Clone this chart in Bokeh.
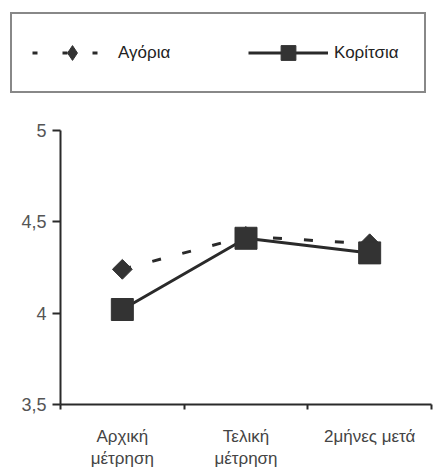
import math
from bokeh.plotting import figure
from bokeh.layouts import column
from bokeh.models import Range1d, FixedTicker, Legend, LegendItem
from bokeh.embed import file_html
from bokeh.resources import INLINE

categories = ["Αρχική\nμέτρηση", "Τελική\nμέτρηση", "2μήνες μετά"]
agoria = [4.24, 4.42, 4.38]
koritsia = [4.02, 4.41, 4.33]
y_ticks = [3.5, 4.0, 4.5, 5.0]
y_tick_labels = ["3,5", "4", "4,5", "5"]
series_names = ["Αγόρια", "Κορίτσια"]

xs = [i + 0.5 for i in range(len(categories))]
FONT = "Liberation Sans"
DARK = "#2a2a2a"
MARK = "#333333"

# ---- legend panel (top) ----
TOP_H = 120
leg = figure(width=434, height=TOP_H, output_backend="svg", toolbar_location=None,
             x_range=Range1d(-10, -9), y_range=Range1d(-10, -9),
             min_border=0, outline_line_color=None, frame_align=False)
leg.axis.visible = False
leg.grid.visible = False
ll1 = leg.line(xs, agoria, line_color=DARK, line_width=3, line_dash="5 25")
lm1 = leg.scatter(xs, agoria, marker="diamond", size=18, fill_color=MARK, line_color=MARK)
ll2 = leg.line(xs, koritsia, line_color=DARK, line_width=3)
lm2 = leg.scatter(xs, koritsia, marker="square", size=16, fill_color=MARK, line_color=MARK)
legend = Legend(items=[LegendItem(label=series_names[0], renderers=[ll1, lm1]),
                       LegendItem(label=series_names[1], renderers=[ll2, lm2])],
                orientation="horizontal", location=(10, TOP_H - 93),
                border_line_color="#111111", border_line_width=2,
                background_fill_color="white", background_fill_alpha=1,
                padding=20, spacing=60, margin=0,
                glyph_width=80, glyph_height=37, label_width=70, label_height=37,
                label_standoff=6,
                label_text_font=FONT, label_text_font_size="17px", label_text_color="#222222")
leg.add_layout(legend, "center")

# ---- main chart ----
p = figure(width=434, height=474 - TOP_H, output_backend="svg", toolbar_location=None,
           x_range=Range1d(0, len(categories)), y_range=Range1d(3.5, 5.0),
           min_border_left=60, min_border_right=3, min_border_top=130 - TOP_H,
           min_border_bottom=70, frame_align=False)
p.outline_line_color = None
p.xgrid.visible = False
p.ygrid.visible = False

p.line(xs, agoria, line_color=DARK, line_width=3, line_dash="9 22")
p.scatter(xs, agoria, marker="square", angle=math.pi / 4, size=14,
          fill_color=MARK, line_color=MARK)
p.line(xs, koritsia, line_color=DARK, line_width=3)
p.scatter(xs, koritsia, marker="square", size=22, fill_color=MARK, line_color=MARK)

p.yaxis.ticker = FixedTicker(ticks=y_ticks, minor_ticks=[])
p.yaxis.major_label_overrides = {t: s for t, s in zip(y_ticks, y_tick_labels)}
p.yaxis.major_tick_out = 8
p.yaxis.major_tick_in = 0
p.yaxis.minor_tick_out = 0
p.yaxis.minor_tick_in = 0
p.yaxis.major_label_standoff = 6
p.yaxis.axis_line_width = 2
p.yaxis.axis_line_color = DARK
p.yaxis.major_tick_line_width = 2
p.yaxis.major_tick_line_color = DARK
p.yaxis.major_label_text_font = FONT
p.yaxis.major_label_text_font_size = "18px"
p.yaxis.major_label_text_color = "#555555"

p.xaxis.ticker = FixedTicker(ticks=xs, minor_ticks=list(range(len(categories) + 1)))
p.xaxis.major_label_overrides = {x: c for x, c in zip(xs, categories)}
p.xaxis.major_tick_out = 0
p.xaxis.major_tick_in = 0
p.xaxis.minor_tick_out = 5
p.xaxis.minor_tick_in = 0
p.xaxis.minor_tick_line_width = 2
p.xaxis.minor_tick_line_color = DARK
p.xaxis.axis_line_width = 2
p.xaxis.axis_line_color = DARK
p.xaxis.major_label_standoff = 17
p.xaxis.major_label_text_font = FONT
p.xaxis.major_label_text_font_size = "17px"
p.xaxis.major_label_text_color = "#444444"

layout = column(leg, p, spacing=0)
open("out.html", "w").write(file_html(layout, INLINE))
